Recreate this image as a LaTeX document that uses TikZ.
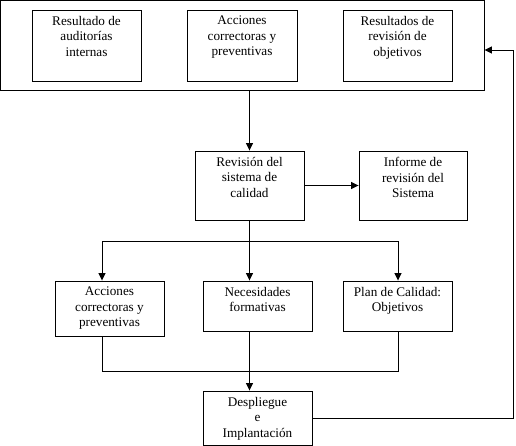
\documentclass[tikz,border=0pt]{standalone}
\usepackage{fontspec}
\setmainfont{Liberation Serif}
\usetikzlibrary{arrows.meta}
\begin{document}
\begin{tikzpicture}[x=1pt,y=-1pt,
  box/.style={draw, line width=0.9pt, inner sep=0pt},
  txt/.style={anchor=north, align=center, inner xsep=0pt, inner ysep=6.5pt, font=\fontsize{13.2}{15.5}\selectfont},
  ln/.style={line width=0.9pt},
  arr/.style={line width=0.9pt, -{Triangle[length=7.5pt,width=7pt]}}]
\useasboundingbox (0,0) rectangle (516,446);
% outer group
\node[box, minimum width=483.5pt, minimum height=89.5pt] (outer) at (242.25,45.25) {};
\node[box, minimum width=109pt, minimum height=71pt] (t1) at (86.5,45.5) {};
\node[txt] (t1t) at (t1.north) {Resultado de\\auditorías\\internas};
\node[box, minimum width=110pt, minimum height=71pt] (t2) at (242,45.5) {};
\node[txt] (t2t) at (t2.north) {Acciones\\correctoras y\\preventivas};
\node[box, minimum width=109pt, minimum height=71pt] (t3) at (397.5,45.5) {};
\node[txt] (t3t) at (t3.north) {Resultados de\\revisión de\\objetivos};
% review
\node[box, minimum width=109pt, minimum height=69pt] (rev) at (249.5,185.5) {};
\node[txt] (revt) at (rev.north) {Revisión del\\sistema de\\calidad};
\node[box, minimum width=108pt, minimum height=69pt] (inf) at (413,185.5) {};
\node[txt] (inft) at (inf.north) {Informe de\\revisión del\\Sistema};
% bottom row
\node[box, minimum width=109pt, minimum height=55pt] (lb) at (109.5,308.5) {};
\node[txt] (lbt) at (lb.north) {Acciones\\correctoras y\\preventivas};
\node[box, minimum width=109pt, minimum height=50pt] (mb) at (257.5,306) {};
\node[txt] (mbt) at (mb.north) {Necesidades\\formativas};
\node[box, minimum width=109pt, minimum height=50pt] (rb) at (397.5,306) {};
\node[txt] (rbt) at (rb.north) {Plan de Calidad:\\Objetivos};
\node[box, minimum width=109pt, minimum height=54pt] (dep) at (257.5,418) {};
\node[txt] (dept) at (dep.north) {Despliegue\\e\\Implantación};
% helper coordinates
\coordinate (bl) at (102,241);
\coordinate (bc) at (249.5,241);
\coordinate (br) at (398,241);
\coordinate (ml) at (102,371);
\coordinate (mc) at (249.5,371);
\coordinate (mr) at (398,371);
\coordinate (fb) at (513,50);
% connectors
\draw[arr] (rev.north |- outer.south) -- (rev.north);
\draw[arr] (rev.east) -- (inf.west);
\draw[ln] (rev.south) -- (bc);
\draw[ln] (bl) -- (br);
\draw[arr] (bl) -- (lb.north -| bl);
\draw[arr] (bc) -- (mb.north -| bc);
\draw[arr] (br) -- (rb.north -| br);
\draw[ln] (lb.south -| ml) -- (ml) -- (mr) -- (rb.south -| mr);
\draw[arr] (mb.south -| mc) -- (dep.north -| mc);
\draw[arr] (dep.east) -- (dep.east -| fb) -- (fb) -- (outer.east |- fb);
\end{tikzpicture}
\end{document}
